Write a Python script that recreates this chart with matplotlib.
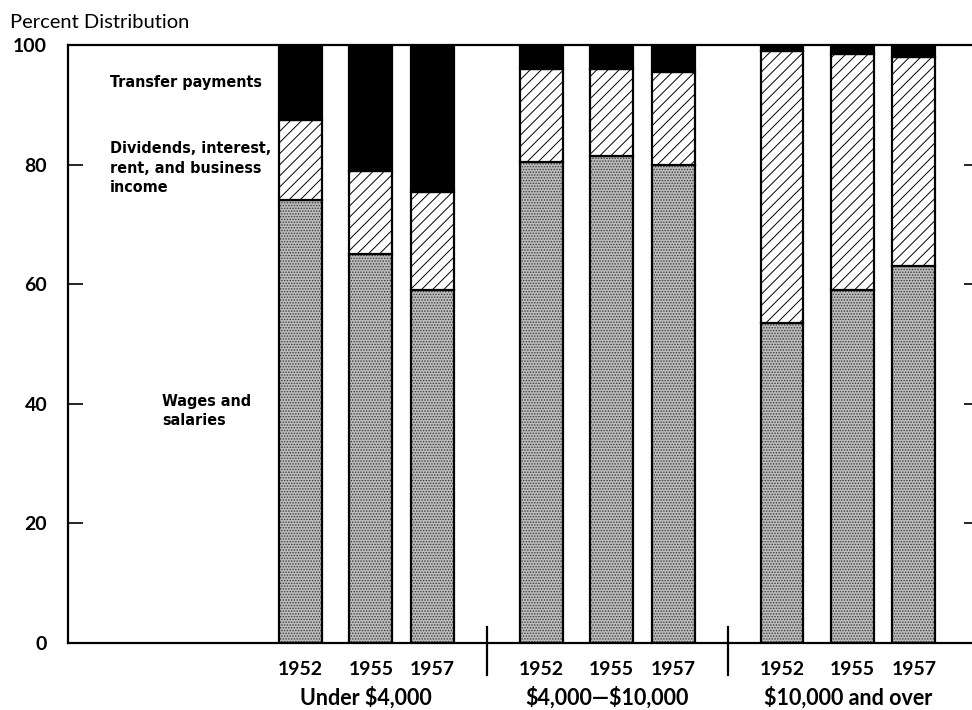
import matplotlib
matplotlib.use('Agg')
import matplotlib.pyplot as plt
import matplotlib.transforms as mtransforms

# data, percent of family personal income by source
groups = ['Under $4,000', '$4,000—$10,000', '$10,000 and over']
years = ['1952', '1955', '1957']
wages = [74, 65, 59, 80.5, 81.5, 80, 53.5, 59, 63]
dividends = [13.5, 14, 16.5, 15.5, 14.5, 15.5, 45.5, 39.5, 35]
transfer = [12.5, 21, 24.5, 4, 4, 4.5, 1, 1.5, 2]
y_ticks = [0, 20, 40, 60, 80, 100]

plt.rcParams['hatch.linewidth'] = 0.7
plt.rcParams['text.parse_math'] = False

fig = plt.figure(figsize=(9.72, 7.10), dpi=100)
ax = fig.add_axes([0.07, 0.0944, 0.93, 0.8422])

# bar layout: three groups of three, middle bar sits a bit to the left
group_step = 3.65
in_group = [0, 1.07, 2.0]
xs = [g * group_step + o for g in range(len(groups)) for o in in_group]
width = 0.65

bottoms2 = [w for w in wages]
bottoms3 = [w + d for w, d in zip(wages, dividends)]

# stippled wages
ax.bar(xs, wages, width, color='#bdbdbd', hatch='......', edgecolor='#3a3a3a',
       linewidth=0, zorder=2)
ax.bar(xs, wages, width, fill=False, edgecolor='black', linewidth=1.6, zorder=3)
ax.bar(xs, dividends, width, bottom=bottoms2, color='white', hatch='///',
       edgecolor='black', linewidth=1.6, zorder=3)
ax.bar(xs, transfer, width, bottom=bottoms3, color='black',
       edgecolor='black', linewidth=1.6, zorder=3)

ax.set_xlim(-3.52, 10.18)
ax.set_ylim(0, 100)

for s in ['left', 'top', 'bottom']:
    ax.spines[s].set_linewidth(1.6)
ax.spines['right'].set_visible(False)

tick_font = dict(family='Lato', weight='bold', size=14)
ax.set_yticks(y_ticks)
ax.set_yticklabels([str(v) for v in y_ticks], **tick_font)
ax.tick_params(axis='y', which='both', direction='in', length=11, width=1.2,
               pad=15, right=True)
for t in ax.yaxis.get_major_ticks():
    t.tick2line.set_markersize(6)

ax.set_xticks(xs)
ax.set_xticklabels(years * len(groups), **tick_font)
ax.tick_params(axis='x', length=0, pad=13)

trans = mtransforms.blended_transform_factory(ax.transData, ax.transAxes)
# group separators crossing the baseline
for g in range(1, len(groups)):
    xd = (xs[3 * g - 1] + xs[3 * g]) / 2
    ax.plot([xd, xd], [0.027, -0.054], color='black', lw=1.6,
            transform=trans, clip_on=False)

group_font = dict(family='Lato', weight='bold', size=15.5)
for g, name in enumerate(groups):
    xc = (xs[3 * g] + xs[3 * g + 2]) / 2
    ax.text(xc, -0.092, name, transform=trans, ha='center', va='center',
            **group_font)

lab = dict(family='DejaVu Sans', stretch='condensed', weight='bold', size=11.5,
           ha='left', va='center', linespacing=1.4)
ty = mtransforms.blended_transform_factory(ax.transAxes, ax.transData)
ax.text(0.046, 93.8, 'Transfer payments', transform=ty, **lab)
ax.text(0.046, 79.4, 'Dividends, interest,\nrent, and business\nincome',
        transform=ty, **lab)
ax.text(0.104, 38.8, 'Wages and\nsalaries', transform=ty, **lab)

fig.text(0.010, 1 - 23 / 710, 'Percent Distribution', family='Lato', size=14.5,
         ha='left', va='center')

fig.savefig('out.png', dpi=100)
